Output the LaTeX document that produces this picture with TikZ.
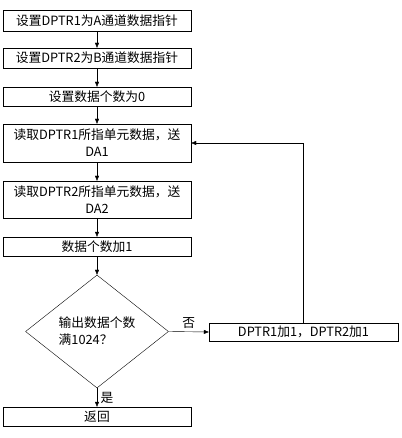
\documentclass[tikz,border=0pt]{standalone}
\usepackage{fontspec}
\setmainfont{Noto Sans CJK SC}
\usetikzlibrary{arrows.meta,shapes.geometric}

\begin{document}
\begin{tikzpicture}[x=1bp,y=-1bp,
	box/.style={draw,thin,minimum width=188bp,inner sep=1bp,align=center,font=\fontsize{12.8}{17}\selectfont},
	dec/.style={draw,thin,diamond,minimum width=143bp,minimum height=113bp,inner sep=0pt,align=left,font=\fontsize{12.8}{17}\selectfont},
	arr/.style={thin,-{Triangle[length=5bp,width=4bp]}}]
	\useasboundingbox (0,0) rectangle (401,438);
	\node[box,minimum height=21bp] (setA) at (97,20.5) {设置DPTR1为A通道数据指针};
	\node[box,minimum height=20bp] (setB) at (97,58) {设置DPTR2为B通道数据指针};
	\node[box,minimum height=19bp] (setN) at (97,96.5) {设置数据个数为0};
	\node[box,minimum height=38bp] (rdA) at (97,143) {读取DPTR1所指单元数据，送\\DA1};
	\node[box,minimum height=37bp] (rdB) at (97,199.5) {读取DPTR2所指单元数据，送\\DA2};
	\node[box,minimum height=19bp] (incN) at (97,246.5) {数据个数加1};
	\node[dec] (full) at (97,331.5) {输出数据个数\\满1024？};
	\node[box,minimum width=189bp,minimum height=18bp] (incP) at (303.5,332) {DPTR1加1，DPTR2加1};
	\node[box,minimum height=19bp] (ret) at (97,416.5) {返回};
	
	\draw[arr] (setA) -- (setB);
	\draw[arr] (setB) -- (setN);
	\draw[arr] (setN) -- (rdA);
	\draw[arr] (rdA) -- (rdB);
	\draw[arr] (rdB) -- (incN);
	\draw[arr] (incN) -- (full);
	\draw[arr] (full.east) -- (incP.west) node[midway,above,font=\fontsize{12.8}{14}\selectfont] {否};
	\draw[arr] (full.south) -- (ret.north) node[pos=0.5,right,font=\fontsize{12.8}{14}\selectfont] {是};
	\draw[arr] (incP.north) |- (rdA.east);
\end{tikzpicture}
\end{document}
